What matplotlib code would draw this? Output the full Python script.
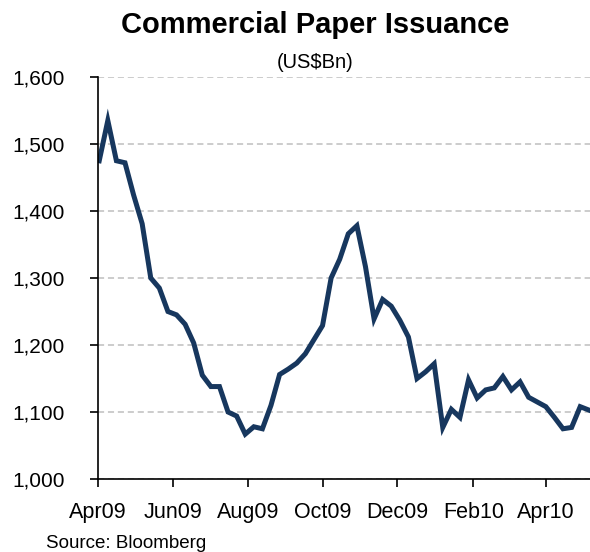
import matplotlib
matplotlib.use("Agg")
import matplotlib.pyplot as plt
import matplotlib.dates as mdates
import numpy as np
import pandas as pd

# weekly commercial paper outstanding, US$Bn
start_date = "2009-04-02"
issuance = [
    1475, 1535, 1475, 1472, 1424, 1381, 1300, 1285, 1250, 1245,
    1231, 1203, 1155, 1138, 1138, 1100, 1094, 1067, 1078, 1075,
    1110, 1156, 1164, 1173, 1187, 1208, 1229, 1300, 1328, 1366,
    1378, 1317, 1239, 1268, 1258, 1237, 1212, 1150, 1160, 1172,
    1077, 1104, 1092, 1148, 1121, 1133, 1136, 1153, 1133, 1145,
    1122, 1115, 1108, 1092, 1075, 1077, 1108, 1103,
]
tick_dates = ["2009-04-01", "2009-06-01", "2009-08-01", "2009-10-01",
              "2009-12-01", "2010-02-01", "2010-04-01"]
y_ticks = [1000, 1100, 1200, 1300, 1400, 1500, 1600]

title = "Commercial Paper Issuance"
subtitle = "(US$Bn)"
source = "Source: Bloomberg"

plt.rcParams["font.family"] = ["Liberation Sans", "DejaVu Sans"]

dates = pd.date_range(start_date, periods=len(issuance), freq="7D")

fig = plt.figure(figsize=(5.9, 5.52), dpi=100)
ax = fig.add_axes([0.1661, 0.1322, 0.8339, 0.7283])

ax.plot(dates, issuance, color="#17375E", linewidth=3.6, solid_joinstyle="miter")

ax.set_xlim(pd.Timestamp("2009-04-01"), dates[-1] + pd.Timedelta(days=1))
ax.set_ylim(1000, 1600)
ax.set_yticks(y_ticks)
ax.yaxis.set_major_formatter(matplotlib.ticker.FuncFormatter(lambda v, p: f"{int(v):,}"))
ax.set_xticks(pd.to_datetime(tick_dates))
ax.xaxis.set_major_formatter(mdates.DateFormatter("%b%y"))

ax.grid(axis="y", color="#BFBFBF", linestyle=(0, (4, 2.5)), linewidth=1.1)
ax.set_axisbelow(True)

for side in ["top", "right"]:
    ax.spines[side].set_visible(False)
for side in ["left", "bottom"]:
    ax.spines[side].set_linewidth(1.2)
    ax.spines[side].set_color("black")

ax.tick_params(axis="y", direction="out", length=6, width=1.2, pad=18, labelsize=15)
ax.tick_params(axis="x", direction="out", length=5.5, width=1.2, pad=11, labelsize=15.5)

fig.text(0.534, 0.940, title, ha="center", va="baseline", fontsize=21, fontweight="bold")
fig.text(0.534, 0.876, subtitle, ha="center", va="baseline", fontsize=14.5)
fig.text(0.078, 0.008, source, ha="left", va="baseline", fontsize=13.5)

fig.savefig("out.png", dpi=100)
